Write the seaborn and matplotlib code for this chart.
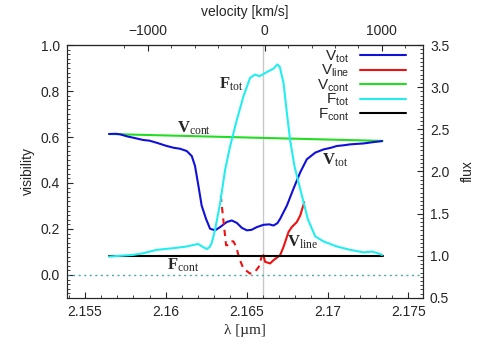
import numpy as np
import matplotlib
matplotlib.use('Agg')
import matplotlib.pyplot as plt
import seaborn as sns
from matplotlib.ticker import MultipleLocator, FixedLocator
from matplotlib.lines import Line2D

# wavelength of line centre and speed of light
lam0 = 2.16612  # micron
c_kms = 299792.458

# V_tot (visibility)
vtot_lam = [2.15650, 2.15690, 2.15717, 2.15760, 2.15799, 2.15861, 2.15900, 2.15944, 2.16006,
            2.16050, 2.16088, 2.16130, 2.16161, 2.16181, 2.16202, 2.16222, 2.16249, 2.16274,
            2.16305, 2.16336, 2.16377, 2.16408, 2.16440, 2.16470, 2.16501, 2.16530, 2.16563,
            2.16604, 2.16640, 2.16666, 2.16690, 2.16707, 2.16749, 2.16789, 2.16831, 2.16872,
            2.16924, 2.16975, 2.17020, 2.17058, 2.17100, 2.17140, 2.17180, 2.17223, 2.17285,
            2.17337]
vtot_vis = [0.613, 0.614, 0.612, 0.603, 0.597, 0.587, 0.584, 0.575, 0.561,
            0.553, 0.549, 0.539, 0.517, 0.474, 0.388, 0.302, 0.244, 0.201,
            0.194, 0.208, 0.230, 0.237, 0.226, 0.205, 0.194, 0.196, 0.208,
            0.218, 0.220, 0.215, 0.225, 0.244, 0.302, 0.374, 0.446, 0.503,
            0.532, 0.546, 0.553, 0.561, 0.564, 0.568, 0.570, 0.572, 0.578,
            0.582]

# V_line, dashed part (inside the absorption) and solid part
vline_dash_lam = [2.16340, 2.16356, 2.16373, 2.16390, 2.16405, 2.16418, 2.16436, 2.16455,
                  2.16480, 2.16521, 2.16550, 2.16575, 2.16595]
vline_dash_vis = [0.345, 0.240, 0.129, 0.130, 0.146, 0.146, 0.122, 0.071,
                  0.028, 0.006, 0.012, 0.035, 0.086]
vline_lam = [2.16604, 2.16614, 2.16645, 2.16666, 2.16707, 2.16728, 2.16759, 2.16779,
             2.16810, 2.16831, 2.16856]
vline_vis = [0.086, 0.057, 0.050, 0.064, 0.086, 0.122, 0.187, 0.208,
             0.230, 0.258, 0.316]

# V_cont (visibility)
vcont_lam = [2.1565, 2.1734]
vcont_vis = [0.613, 0.583]

# F_tot (normalised flux)
ftot_lam = [2.15650, 2.15720, 2.15799, 2.15861, 2.15944, 2.16047, 2.16130, 2.16175, 2.16200,
            2.16225, 2.16253, 2.16270, 2.16284, 2.16305, 2.16336, 2.16367, 2.16398, 2.16439,
            2.16480, 2.16521, 2.16552, 2.16580, 2.16625, 2.16666, 2.16690, 2.16705, 2.16728,
            2.16749, 2.16769, 2.16796, 2.16838, 2.16879, 2.16924, 2.16975, 2.17058, 2.17140,
            2.17223, 2.17275, 2.17310, 2.17337]
ftot_flux = [0.99, 1.00, 1.01, 1.03, 1.07, 1.09, 1.11, 1.13, 1.14,
             1.11, 1.08, 1.10, 1.15, 1.31, 1.62, 2.02, 2.30, 2.61,
             2.89, 3.11, 3.15, 3.13, 3.18, 3.22, 3.27, 3.24, 3.05,
             2.69, 2.37, 2.06, 1.74, 1.43, 1.23, 1.17, 1.11, 1.07,
             1.04, 1.05, 1.03, 1.01]

# F_cont
fcont_lam = [2.1565, 2.1734]
fcont_flux = [1.0, 1.0]

# top axis ticks
vel_major = [-1000, 0, 1000]
vel_minor = [-1200, -800, -600, -400, -200, 200, 400, 600, 800, 1200]

sns.set_style('ticks')
plt.rcParams['font.family'] = ['Liberation Sans', 'DejaVu Sans']
plt.rcParams['font.size'] = 10
plt.rcParams['mathtext.fontset'] = 'custom'
plt.rcParams['mathtext.rm'] = 'Liberation Serif'
plt.rcParams['mathtext.bf'] = 'Liberation Serif:bold'
plt.rcParams['mathtext.sf'] = 'Liberation Sans'
plt.rcParams['mathtext.it'] = 'Liberation Serif:italic'

c_blue = '#1010d8'
c_red = '#ee1111'
c_green = '#22dd22'
c_cyan = '#22eef0'
c_black = '#000000'

fig = plt.figure(figsize=(4.91, 3.44), dpi=100)
ax = fig.add_axes([0.1365, 0.134, 0.725, 0.735])
ax2 = ax.twinx()

# reference lines
ax.axvline(lam0 - 0.0001, color='#c8c8c8', lw=1.0, zorder=0)
ax.axhline(0.0, color='#4aa8a8', lw=1.0, ls=(0, (1.5, 2.5)), zorder=1)

sns.lineplot(x=vcont_lam, y=vcont_vis, ax=ax, color=c_green, lw=1.5)
sns.lineplot(x=vtot_lam, y=vtot_vis, ax=ax, color=c_blue, lw=1.5)
sns.lineplot(x=vline_dash_lam, y=vline_dash_vis, ax=ax, color=c_red, lw=1.5, linestyle=(0, (3, 2.5)))
sns.lineplot(x=vline_lam, y=vline_vis, ax=ax, color=c_red, lw=1.5)

sns.lineplot(x=fcont_lam, y=fcont_flux, ax=ax2, color=c_black, lw=1.5)
sns.lineplot(x=ftot_lam, y=ftot_flux, ax=ax2, color=c_cyan, lw=1.5)

ax.set_xlim(2.1539, 2.1759)
ax.set_ylim(-0.1, 1.0)
ax2.set_ylim(0.5, 3.5)

ax.xaxis.set_major_locator(MultipleLocator(0.005))
ax.xaxis.set_minor_locator(MultipleLocator(0.001))
ax.xaxis.set_major_formatter(plt.FuncFormatter(lambda v, p: ('%.3f' % v).rstrip('0')))
ax.yaxis.set_major_locator(MultipleLocator(0.2))
ax.yaxis.set_minor_locator(MultipleLocator(0.02))
ax.yaxis.set_major_formatter(plt.FormatStrFormatter('%.1f'))
ax2.yaxis.set_major_locator(MultipleLocator(0.5))
ax2.yaxis.set_minor_locator(MultipleLocator(0.05))
ax2.yaxis.set_major_formatter(plt.FormatStrFormatter('%.1f'))


def lam2vel(l):
    return (np.asarray(l) - lam0) / lam0 * c_kms


def vel2lam(v):
    return lam0 * (1 + np.asarray(v) / c_kms)


top = ax.secondary_xaxis('top', functions=(lam2vel, vel2lam))
top.xaxis.set_major_locator(FixedLocator(vel_major))
top.xaxis.set_minor_locator(FixedLocator(vel_minor))
top.set_xlabel('velocity [km/s]', labelpad=6)

for a in (ax, ax2, top):
    a.tick_params(which='both', direction='in', labelsize=10, pad=5)
    a.tick_params(which='major', length=4)
    a.tick_params(which='minor', length=2)
ax.tick_params(axis='y', right=False)

ax.set_xlabel('λ [µm]', family='Liberation Serif', fontsize=11)
ax.set_ylabel('visibility')
ax2.set_ylabel('flux', labelpad=8)

# curve annotations
ax.text(2.16175, 0.64, r'$\mathbf{V}_{\rm cont}$', fontsize=12, ha='center', va='center')
ax.text(2.16404, 0.83, r'$\mathbf{F}_{\rm tot}$', fontsize=12, ha='center', va='center')
ax.text(2.17048, 0.50, r'$\mathbf{V}_{\rm tot}$', fontsize=12, ha='center', va='center')
ax.text(2.16843, 0.14, r'$\mathbf{V}_{\rm line}$', fontsize=12, ha='center', va='center')
ax.text(2.16107, 0.04, r'$\mathbf{F}_{\rm cont}$', fontsize=12, ha='center', va='center')

handles = [Line2D([], [], color=c_blue, lw=1.5),
           Line2D([], [], color=c_red, lw=1.5),
           Line2D([], [], color=c_green, lw=1.5),
           Line2D([], [], color=c_cyan, lw=1.5),
           Line2D([], [], color=c_black, lw=1.5)]
labels = [r'V$_{\mathsf{tot}}$', r'V$_{\mathsf{line}}$', r'V$_{\mathsf{cont}}$',
          r'F$_{\mathsf{tot}}$', r'F$_{\mathsf{cont}}$']
ax2.legend(handles, labels, loc='upper right', bbox_to_anchor=(0.975, 1.02), frameon=False,
           markerfirst=False, handlelength=3.0, labelspacing=-0.1, handletextpad=0.7,
           fontsize=11, borderaxespad=0.15)

fig.savefig('out.png', dpi=100)
